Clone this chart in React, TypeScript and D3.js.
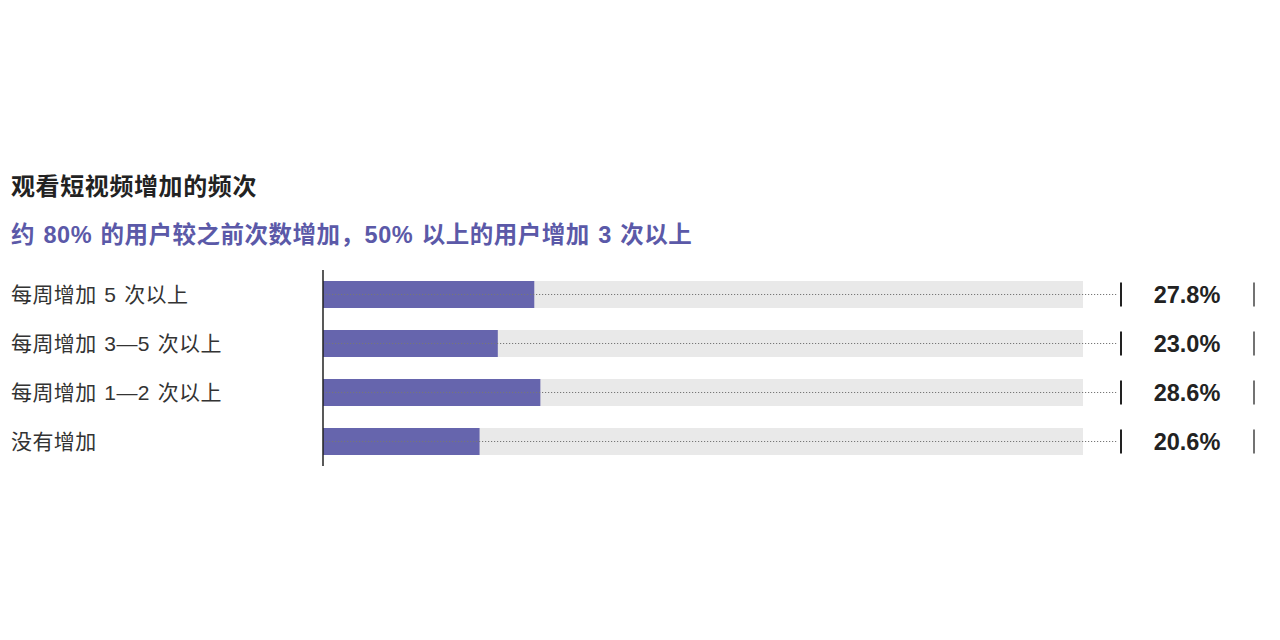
import React from 'react';
import * as d3 from 'd3';

const title = '观看短视频增加的频次';
const subtitle = '约 80% 的用户较之前次数增加，50% 以上的用户增加 3 次以上';
const categories = ['每周增加 5 次以上', '每周增加 3—5 次以上', '每周增加 1—2 次以上', '没有增加'];
const values = [27.8, 23.0, 28.6, 20.6];

const W = 1280;
const H = 640;
const FONT = '"Liberation Sans", "Noto Sans CJK SC", sans-serif';

const App: React.FC = () => {
    const x = d3.scaleLinear().domain([0, 100]).range([323, 1083]);
    const y = d3.scalePoint<string>().domain(categories).range([270, 466]).padding(0.5);
    const barH = 27;

    return (
        <div style={{ position: 'fixed', left: 0, top: 0, width: W, height: H, background: '#fff' }}>
            <svg width={W} height={H} style={{ display: 'block' }}>
                <text x={11} y={195} fontFamily={FONT} fontSize={24} letterSpacing={0.6} fontWeight="bold" fill="#222">{title}</text>
                <text x={11} y={243} fontFamily={FONT} fontSize={23.5} letterSpacing={0.5} wordSpacing={1.5} fontWeight="bold" fill="#5b59a8">{subtitle}</text>

                {categories.map((c, i) => {
                    const cy = y(c) as number;
                    return (
                        <g key={c}>
                            <text x={11} y={cy} dy="0.36em" fontFamily={FONT} fontSize={21} letterSpacing={0.4} wordSpacing={1.5} fill="#333">{c}</text>
                            <rect x={x(0)} y={cy - barH / 2} width={x(100) - x(0)} height={barH} fill="#e9e9e9" />
                            <rect x={x(0)} y={cy - barH / 2} width={x(values[i]) - x(0)} height={barH} fill="#6665ad" />
                            <line x1={x(0)} x2={1118} y1={cy} y2={cy} stroke="#777" strokeWidth={1} strokeDasharray="1.2,1.8" />
                            <line x1={1121} x2={1121} y1={cy - 12} y2={cy + 12} stroke="#222" strokeWidth={2} />
                            <text x={1187} y={cy} dy="0.36em" textAnchor="middle" fontFamily={FONT} fontSize={23.5} fontWeight="bold" fill="#222">
                                {values[i].toFixed(1)}%
                            </text>
                            <line x1={1254} x2={1254} y1={cy - 12} y2={cy + 12} stroke="#444" strokeWidth={1.5} />
                        </g>
                    );
                })}

                <line x1={x(0)} x2={x(0)} y1={270} y2={466} stroke="#222" strokeWidth={1.5} />
            </svg>
        </div>
    );
};

export default App;
